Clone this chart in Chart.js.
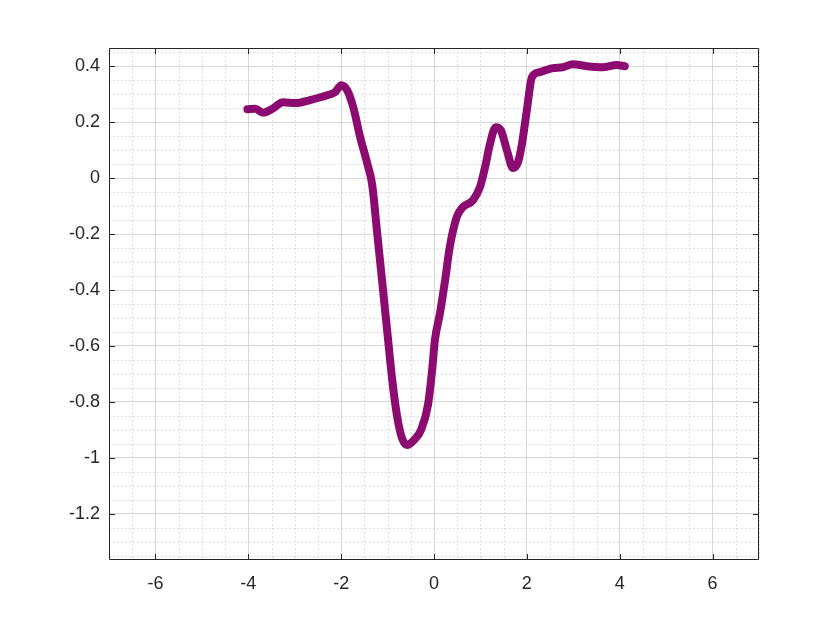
<!DOCTYPE html>
<html>
<head>
<meta charset="utf-8">
<script src="https://cdn.jsdelivr.net/npm/chart.js@4/dist/chart.umd.min.js"></script>
<style>
  body { margin: 0; background: #fff; }
  canvas { display: block; }
</style>
</head>
<body>
<canvas id="plot" width="840" height="630"></canvas>
<script>
// values
const xValues = [-4.02, -3.85, -3.68, -3.48, -3.25, -2.99, -2.67, -2.30, -2.13, -2.00,
  -1.87, -1.74, -1.59, -1.44, -1.33, -1.23, -1.12, -1.01, -0.90, -0.80,
  -0.69, -0.58, -0.43, -0.28, -0.13, -0.04, 0.02, 0.13, 0.24, 0.34,
  0.49, 0.62, 0.84, 0.99, 1.10, 1.20, 1.33, 1.44, 1.57, 1.70,
  1.81, 1.89, 2.00, 2.11, 2.28, 2.56, 2.77, 2.99, 3.29, 3.63, 3.94, 4.11];
const yValues = [0.246, 0.248, 0.234, 0.248, 0.271, 0.268, 0.279, 0.296, 0.307, 0.332,
  0.314, 0.254, 0.146, 0.054, -0.025, -0.186, -0.364, -0.543, -0.721, -0.846,
  -0.929, -0.954, -0.936, -0.900, -0.811, -0.686, -0.579, -0.482, -0.364, -0.246,
  -0.139, -0.104, -0.079, -0.032, 0.039, 0.118, 0.182, 0.171, 0.100, 0.036,
  0.057, 0.118, 0.243, 0.361, 0.379, 0.393, 0.396, 0.407, 0.400, 0.396, 0.404, 0.400];

const xTicks = [-6, -4, -2, 0, 2, 4, 6];
const yTicks = [-1.2, -1, -0.8, -0.6, -0.4, -0.2, 0, 0.2, 0.4];

const axisColor = '#262626';

// minor dotted grid, box and inward ticks like the original figure
const frame = {
    id: 'frame',
    beforeDatasetsDraw(chart) {
        const { ctx, chartArea: a, scales: { x, y } } = chart;
        ctx.save();
        ctx.strokeStyle = '#dedede';
        ctx.lineWidth = 1;
        ctx.setLineDash([2, 2]);
        ctx.beginPath();
        for (let i = -14; i <= 14; i++) {
            if (i % 4 === 0) continue;
            const px = Math.round(x.getPixelForValue(i * 0.5)) + 0.5;
            ctx.moveTo(px, a.top);
            ctx.lineTo(px, a.bottom);
        }
        for (let i = -27; i <= 9; i++) {
            if (i % 4 === 0) continue;
            const py = Math.round(y.getPixelForValue(i * 0.05)) + 0.5;
            ctx.moveTo(a.left, py);
            ctx.lineTo(a.right, py);
        }
        ctx.stroke();
        ctx.restore();
    },
    afterDatasetsDraw(chart) {
        const { ctx, chartArea: a, scales: { x, y } } = chart;
        ctx.save();
        ctx.strokeStyle = axisColor;
        ctx.lineWidth = 1;
        ctx.beginPath();
        ctx.rect(Math.round(a.left) + 0.5, Math.round(a.top) + 0.5,
            Math.round(a.right - a.left) - 1, Math.round(a.bottom - a.top) - 1);
        xTicks.forEach(v => {
            const px = Math.round(x.getPixelForValue(v)) + 0.5;
            ctx.moveTo(px, a.bottom); ctx.lineTo(px, a.bottom - 6);
            ctx.moveTo(px, a.top); ctx.lineTo(px, a.top + 6);
        });
        yTicks.forEach(v => {
            const py = Math.round(y.getPixelForValue(v)) + 0.5;
            ctx.moveTo(a.left, py); ctx.lineTo(a.left + 6, py);
            ctx.moveTo(a.right, py); ctx.lineTo(a.right - 6, py);
        });
        ctx.stroke();
        ctx.restore();
    }
};

const tickFont = { family: '"Liberation Sans", Arial, sans-serif', size: 18 };

new Chart(document.getElementById('plot'), {
    type: 'line',
    data: {
        datasets: [{
            data: xValues.map((v, i) => ({ x: v, y: yValues[i] })),
            borderColor: '#8c0b70',
            borderWidth: 8,
            borderCapStyle: 'round',
            borderJoinStyle: 'round',
            pointRadius: 0,
            cubicInterpolationMode: 'monotone',
            fill: false
        }]
    },
    options: {
        responsive: false,
        animation: false,
        layout: { padding: { top: 48, right: 81, left: 0, bottom: 0 } },
        plugins: { legend: { display: false }, tooltip: { enabled: false } },
        scales: {
            x: {
                type: 'linear',
                min: -7,
                max: 7,
                afterBuildTicks: s => { s.ticks = xTicks.map(v => ({ value: v })); },
                afterFit: s => { s.height = 70; },
                ticks: { font: tickFont, color: axisColor, padding: 13, maxRotation: 0, callback: v => String(v) },
                grid: { color: '#d6d6d6', drawTicks: false },
                border: { display: false }
            },
            y: {
                type: 'linear',
                min: -1.365,
                max: 0.465,
                afterBuildTicks: s => { s.ticks = yTicks.map(v => ({ value: v })); },
                afterFit: s => { s.width = 109; },
                ticks: { font: tickFont, color: axisColor, padding: 9, callback: v => String(Math.round(v * 10) / 10) },
                grid: { color: '#d6d6d6', drawTicks: false },
                border: { display: false }
            }
        }
    },
    plugins: [frame]
});
</script>
</body>
</html>
